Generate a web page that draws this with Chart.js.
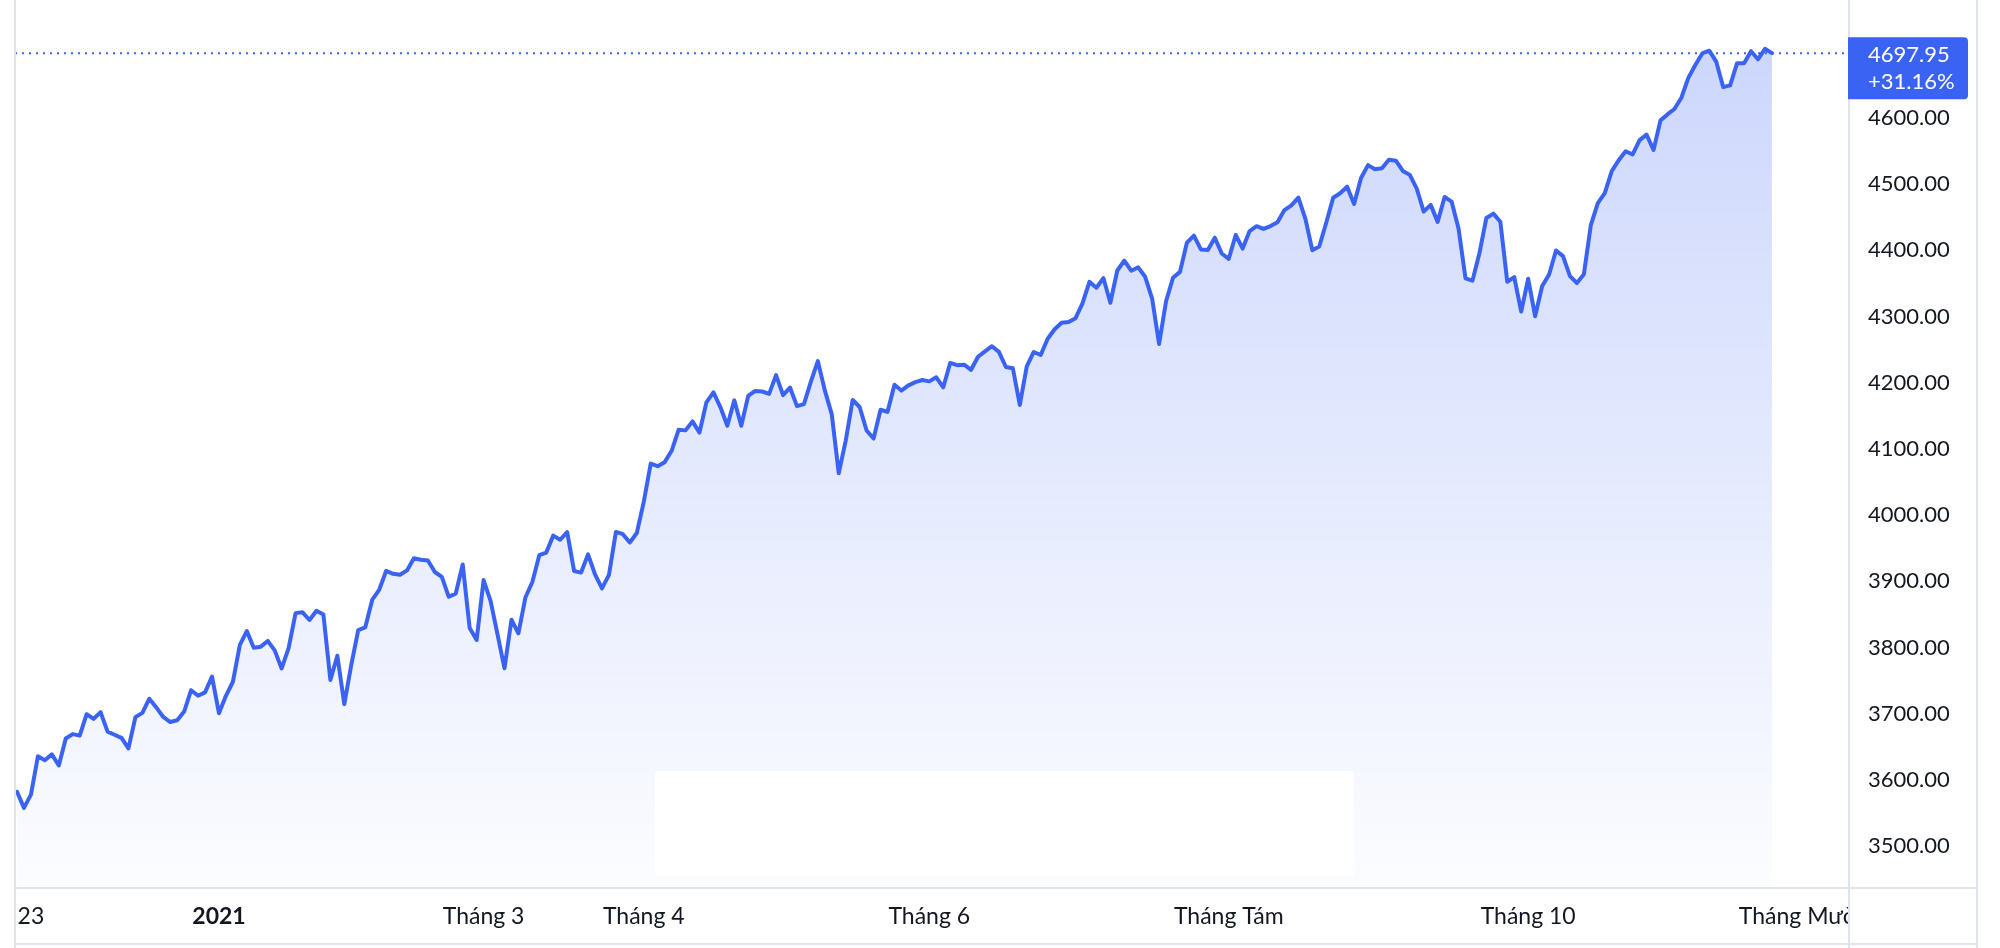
<!DOCTYPE html>
<html>
<head>
<meta charset="utf-8">
<title>S&amp;P 500</title>
<script src="https://cdn.jsdelivr.net/npm/chart.js@4.4.0/dist/chart.umd.min.js"></script>
<style>
  html, body { margin: 0; padding: 0; background: #fff; }
  #wrap { width: 2000px; height: 948px; position: relative; }
</style>
</head>
<body>
<div id="wrap"><canvas id="myChart"></canvas></div>
<script>
// daily closes, 19 Nov 2020 -> 19 Nov 2021 (one point per trading day)
const closes = [
  3581.87, 3557.54, 3577.59, 3635.41, 3629.65, 3638.35, 3621.63,
  3662.45, 3669.01, 3666.72, 3699.12, 3691.96, 3702.25, 3672.82, 3668.10, 3663.46, 3647.49, 3694.62,
  3701.17, 3722.48, 3709.41, 3694.92, 3687.26, 3690.01, 3703.06, 3735.36, 3727.04, 3732.04, 3756.07,
  3700.65, 3726.86, 3748.14, 3803.79, 3824.68, 3799.61, 3801.19, 3809.84, 3795.54, 3768.25, 3798.91,
  3851.85, 3853.07, 3841.47, 3855.36, 3849.62, 3750.77, 3787.38, 3714.24,
  3773.86, 3826.31, 3830.17, 3871.74, 3886.83, 3915.59, 3911.23, 3909.88, 3916.38, 3934.83, 3932.59,
  3931.33, 3913.97, 3906.71, 3876.50, 3881.37, 3925.43, 3829.34, 3811.15,
  3901.82, 3870.29, 3819.72, 3768.47, 3841.94, 3821.35, 3875.44, 3898.81, 3939.34, 3943.34, 3968.94,
  3962.71, 3974.12, 3915.46, 3913.10, 3940.59, 3910.52, 3889.14, 3909.52, 3974.54, 3971.09, 3958.55, 3972.89,
  4019.87, 4077.91, 4073.94, 4079.95, 4097.17, 4128.80, 4127.99, 4141.59, 4124.66, 4170.42, 4185.47,
  4163.26, 4134.94, 4173.42, 4134.98, 4180.17, 4187.62, 4186.72, 4183.18, 4211.47, 4181.17,
  4192.66, 4164.66, 4167.59, 4201.62, 4232.60, 4188.43, 4152.10, 4063.04, 4112.50, 4173.85, 4163.29,
  4127.83, 4115.68, 4159.12, 4155.86, 4197.05, 4188.13, 4195.99, 4200.88, 4204.11,
  4202.04, 4208.12, 4192.85, 4229.89, 4226.52, 4227.26, 4219.55, 4239.18, 4247.44, 4255.15, 4246.59,
  4223.70, 4221.86, 4166.45, 4224.79, 4246.44, 4241.84, 4266.49, 4280.70, 4290.61, 4291.80, 4297.50,
  4319.94, 4352.34, 4343.54, 4358.13, 4320.82, 4369.55, 4384.63, 4369.21, 4374.30, 4360.03, 4327.16,
  4258.49, 4323.06, 4358.69, 4367.48, 4411.79, 4422.30, 4401.46, 4400.64, 4419.15, 4395.26,
  4387.16, 4423.15, 4402.66, 4429.10, 4436.52, 4432.35, 4436.75, 4442.41, 4460.83, 4468.00, 4479.71,
  4448.08, 4400.27, 4405.80, 4441.67, 4479.53, 4486.23, 4496.19, 4470.00, 4509.37, 4528.79, 4522.68,
  4524.09, 4536.95, 4535.43, 4520.03, 4514.07, 4493.28, 4458.58, 4468.73, 4443.05, 4480.70, 4473.75,
  4432.99, 4357.73, 4354.19, 4395.64, 4448.98, 4455.48, 4443.11, 4352.63, 4359.46, 4307.54,
  4357.04, 4300.46, 4345.72, 4363.55, 4399.76, 4391.34, 4361.19, 4350.65, 4363.80, 4438.26, 4471.37,
  4486.46, 4519.63, 4536.19, 4549.78, 4544.90, 4566.48, 4574.79, 4551.68, 4596.42, 4605.38,
  4613.67, 4630.65, 4660.57, 4680.06, 4697.53, 4701.70, 4685.25, 4646.71, 4649.27, 4682.85, 4682.80,
  4700.90, 4688.67, 4704.54, 4697.95
]

// time axis: bar index of each label, and the label text
const tickIdx = [2, 29, 67, 90, 131, 174, 217, 259]
const tickLabels = ['23', '2021', 'Tháng 3', 'Tháng 4', 'Tháng 6', 'Tháng Tám', 'Tháng 10', 'Tháng Mười Hai']

const priceTicks = [3500, 3600, 3700, 3800, 3900, 4000, 4100, 4200, 4300, 4400, 4500, 4600]
const lastPrice = 4697.95
const changeText = '+31.16%'

const BLUE = '#3b63f3'
const BORDER = '#e0e3eb'
const FONT = 'Lato, "Trebuchet MS", sans-serif'

const extras = {
  id: 'extras',
  afterDatasetsDraw(chart) {
    // white box that sits over the area fill
    const c = chart.ctx
    c.save()
    c.fillStyle = '#ffffff'
    c.fillRect(655, 771, 699, 105)
    c.restore()
  },
  afterDraw(chart) {
    const c = chart.ctx
    const area = chart.chartArea
    const yp = chart.scales.y.getPixelForValue(lastPrice)
    c.save()

    // cut the last time label at the price scale
    c.fillStyle = '#ffffff'
    c.fillRect(area.right + 1, area.bottom + 1, 2000 - area.right, 948 - area.bottom)

    // dotted last-price line
    c.strokeStyle = BLUE
    c.lineWidth = 2
    c.setLineDash([2, 5])
    c.beginPath()
    c.moveTo(area.left, yp)
    c.lineTo(area.right, yp)
    c.stroke()
    c.setLineDash([])

    // pane borders
    c.strokeStyle = BORDER
    c.lineWidth = 2
    c.beginPath()
    c.moveTo(area.left, 0); c.lineTo(area.left, 948)
    c.moveTo(area.right, 0); c.lineTo(area.right, 948)
    c.moveTo(1977, 0); c.lineTo(1977, 948)
    c.moveTo(area.left, area.bottom); c.lineTo(1977, area.bottom)
    c.moveTo(area.left, 944); c.lineTo(1977, 944)
    c.stroke()

    // price label
    const bx = area.right - 1, bw = 120, by = yp - 16, bh = 62, r = 4
    c.fillStyle = BLUE
    c.beginPath()
    c.moveTo(bx, by)
    c.lineTo(bx + bw - r, by)
    c.quadraticCurveTo(bx + bw, by, bx + bw, by + r)
    c.lineTo(bx + bw, by + bh - r)
    c.quadraticCurveTo(bx + bw, by + bh, bx + bw - r, by + bh)
    c.lineTo(bx, by + bh)
    c.closePath()
    c.fill()
    c.fillStyle = '#ffffff'
    c.font = '22px ' + FONT
    c.textAlign = 'left'
    c.textBaseline = 'middle'
    c.fillText(lastPrice.toFixed(2), area.right + 19, yp + 2)
    c.fillText(changeText, area.right + 19, yp + 29)
    c.restore()
  }
}

const ctx = document.getElementById('myChart')
new Chart(ctx, {
  type: 'line',
  data: {
    datasets: [{
      data: closes.map((v, i) => ({ x: i, y: v })),
      borderColor: BLUE,
      borderWidth: 4,
      borderJoinStyle: 'round',
      borderCapStyle: 'round',
      pointRadius: 0,
      tension: 0,
      fill: 'start',
      backgroundColor: (context) => {
        const area = context.chart.chartArea
        if (!area) return 'rgba(59,99,243,0.1)'
        const g = context.chart.ctx.createLinearGradient(0, area.top, 0, area.bottom)
        g.addColorStop(0, 'rgba(59,99,243,0.27)')
        g.addColorStop(1, 'rgba(59,99,243,0.015)')
        return g
      }
    }]
  },
  options: {
    responsive: true,
    maintainAspectRatio: false,
    animation: false,
    layout: { padding: { left: 15, top: 0, right: 0, bottom: 0 } },
    plugins: {
      legend: { display: false },
      tooltip: { enabled: false }
    },
    scales: {
      x: {
        type: 'linear',
        min: -0.29,
        max: 263.07,
        grid: { display: false, drawTicks: false },
        border: { display: false },
        afterBuildTicks: (scale) => { scale.ticks = tickIdx.map(v => ({ value: v })) },
        afterFit: (scale) => {
          scale.height = 60
          scale.paddingLeft = 0
          scale.paddingRight = 0
        },
        ticks: {
          autoSkip: false,
          maxRotation: 0,
          minRotation: 0,
          padding: 15,
          color: '#131722',
          font: (c) => ({
            family: FONT,
            size: 23,
            weight: c.tick && c.tick.value === 29 ? 'bold' : 'normal'
          }),
          callback: (v) => tickLabels[tickIdx.indexOf(v)]
        }
      },
      y: {
        position: 'right',
        min: 3436.5,
        max: 4778.3,
        grid: { display: false, drawTicks: false },
        border: { display: false },
        afterBuildTicks: (scale) => { scale.ticks = priceTicks.map(v => ({ value: v })) },
        afterFit: (scale) => {
          scale.width = 151
          scale.paddingTop = 0
          scale.paddingBottom = 0
        },
        ticks: {
          padding: 19,
          color: '#131722',
          font: { family: FONT, size: 22 },
          callback: (v) => v.toFixed(2)
        }
      }
    }
  },
  plugins: [extras]
})
</script>
</body>
</html>
